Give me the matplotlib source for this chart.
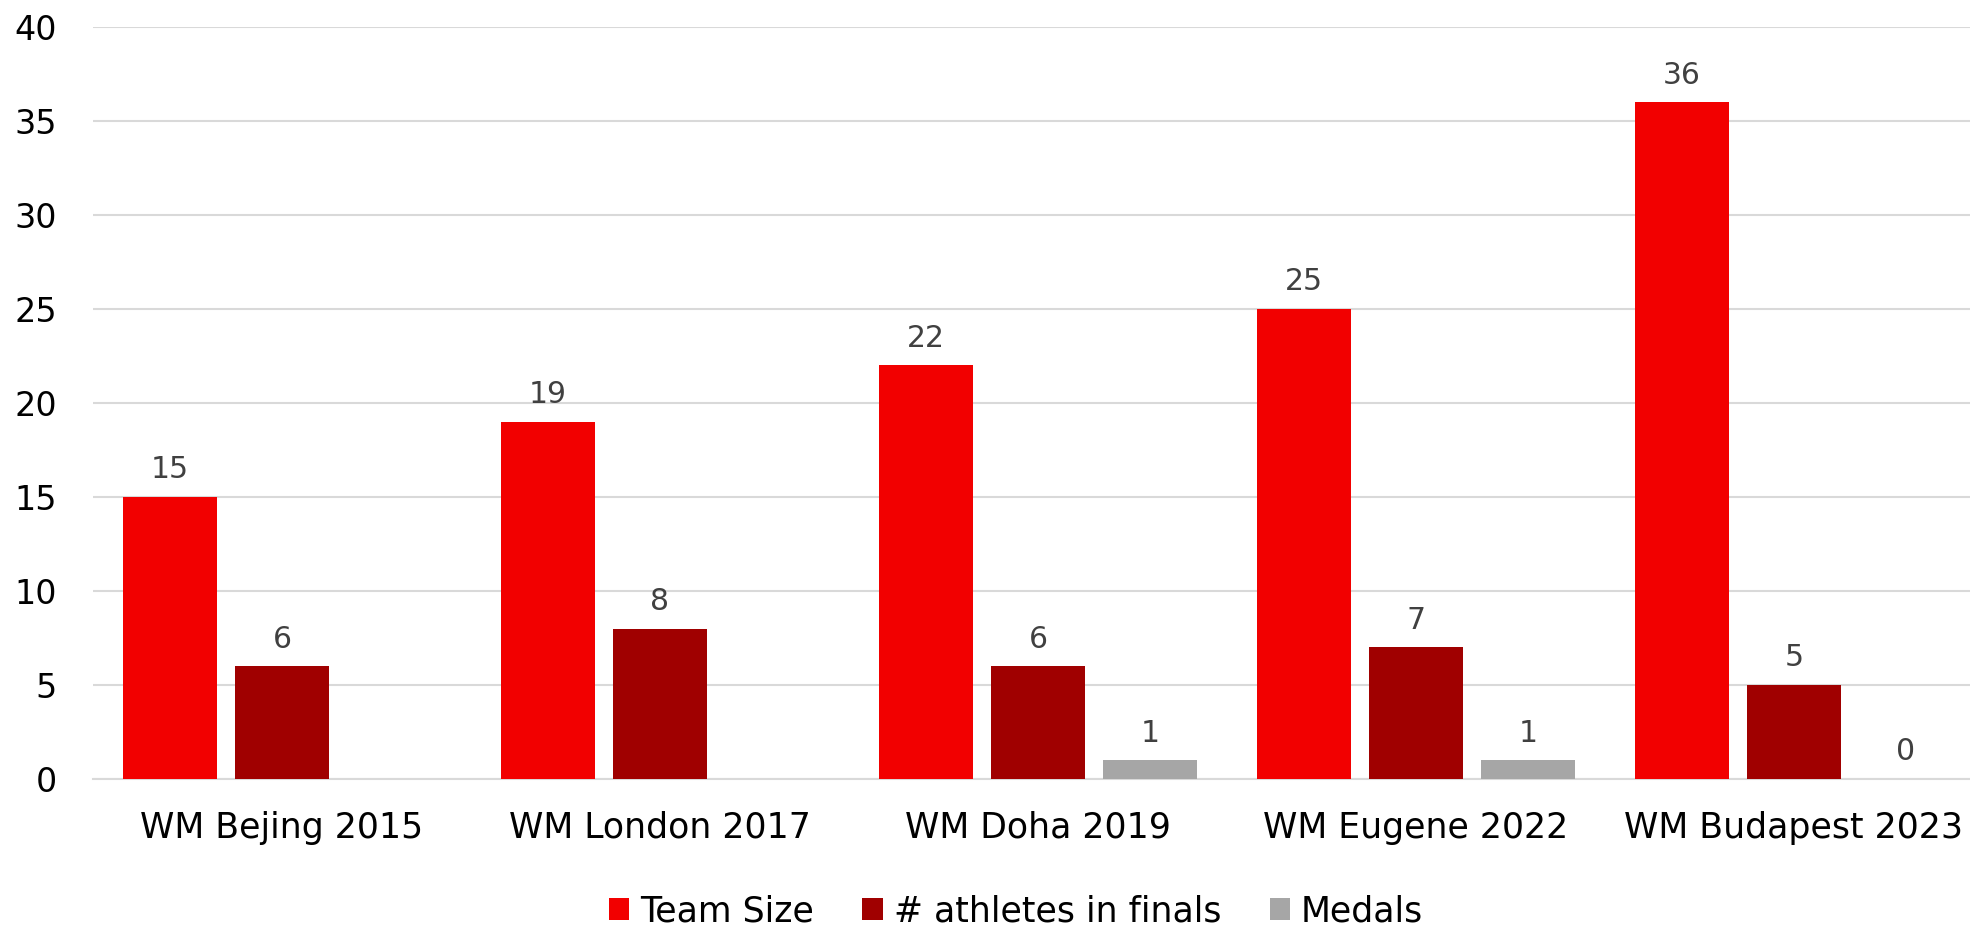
import numpy as np
import matplotlib.pyplot as plt

# --- DATA ---
events = ['WM Bejing 2015', 'WM London 2017', 'WM Doha 2019',
          'WM Eugene 2022', 'WM Budapest 2023']
team_size = [15, 19, 22, 25, 36]
finalists = [6, 8, 6, 7, 5]
medals = [np.nan, np.nan, 1, 1, 0]

series = [('Team Size', team_size, '#F20000'),
          ('# athletes in finals', finalists, '#A00000'),
          ('Medals', medals, '#A6A6A6')]

plt.rcParams['font.family'] = 'DejaVu Sans'

# --- FIGURE ---
fig = plt.figure(figsize=(19.7, 9.27), dpi=100)
ax = fig.add_axes([93 / 1970, 1 - 779 / 927, 1890 / 1970, 752 / 927])

x = np.arange(len(events))
width = 0.249
step = 0.296

for k, (name, vals, col) in enumerate(series):
    pos = x + (k - 1) * step
    v = np.array(vals, dtype=float)
    ax.bar(pos, np.nan_to_num(v), width=width, color=col, label=name, zorder=3)
    for p, val in zip(pos, v):
        if np.isnan(val):
            continue
        ax.annotate(f'{val:.0f}', (p, val), xytext=(0, 9), textcoords='offset points',
                    ha='center', va='bottom', fontsize=21.5, color='#404040')

ax.set_xlim(-0.5, len(events) - 0.5)
ax.set_ylim(0, 40)
ax.set_yticks(np.arange(0, 41, 5))
ax.set_xticks(x)
ax.set_xticklabels(events, fontsize=25)
ax.tick_params(axis='x', length=0, pad=23)
ax.tick_params(axis='y', length=0, pad=26, labelsize=24)

ax.grid(axis='y', color='#D9D9D9', linewidth=1.5, zorder=0)
for s in ['top', 'right', 'left']:
    ax.spines[s].set_visible(False)
ax.spines['bottom'].set_color('#D9D9D9')
ax.spines['bottom'].set_linewidth(1.5)

fig.legend(loc='center', bbox_to_anchor=(1016 / 1970, 1 - 911 / 927), ncol=3,
           frameon=False, fontsize=25,
           handlelength=0.58, handleheight=0.58, handletextpad=0.32, columnspacing=1.4)

fig.savefig('out.png', dpi=100)
